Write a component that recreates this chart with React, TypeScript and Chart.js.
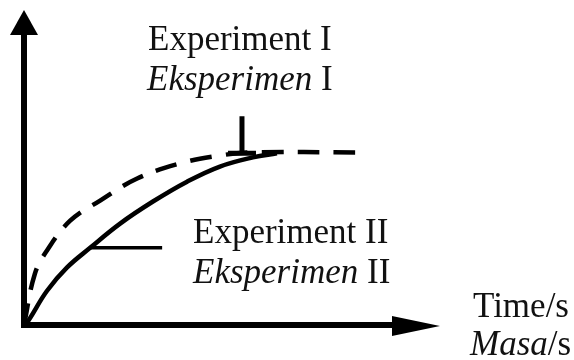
import React, { useEffect, useRef } from "react";
import { Chart, registerables } from "chart.js";

Chart.register(...registerables);

// Experiment I (dashed) – product vs time, arbitrary units (0..100)
const expITime = [0, 2.6, 5.5, 11.1, 18.3, 27.2, 37.5, 47.1, 55.0, 79.6];
const expIValue = [0, 16.2, 23.6, 33.1, 39.5, 46.5, 51.3, 53.8, 54.8, 54.8];

// Experiment II (solid)
const expIITime = [0, 1.0, 5.5, 10.3, 15.9, 23.1, 31.0, 39.2, 47.1, 55.0, 60.8];
const expIIValue = [0, 1.3, 10.8, 18.2, 24.5, 32.2, 39.2, 45.5, 50.3, 53.2, 54.5];

// Labels
const labelExpI = ["Experiment I", "Eksperimen", " I"];
const labelExpII = ["Experiment II", "Eksperimen", " II"];
const axisLabel = ["Time/s", "Masa", "/s"];

const X_MAX = 100;
const Y_MAX = 100;

const FONT = '"Liberation Serif", "Times New Roman", serif';

const overlay = {
  id: "overlay",
  afterDatasetsDraw(chart: any) {
    const ctx = chart.ctx as CanvasRenderingContext2D;
    const xs = chart.scales.x;
    const ys = chart.scales.y;
    const ox = xs.getPixelForValue(0);
    const oy = ys.getPixelForValue(0);
    const topY = ys.getPixelForValue(Y_MAX);
    const rightX = xs.getPixelForValue(X_MAX);
    ctx.save();
    ctx.fillStyle = "#000";
    ctx.strokeStyle = "#000";
    ctx.lineCap = "butt";
    // axes
    ctx.lineWidth = 6;
    ctx.beginPath();
    ctx.moveTo(ox, oy + 3);
    ctx.lineTo(ox, topY + 20);
    ctx.moveTo(ox - 3, oy);
    ctx.lineTo(rightX - 30, oy);
    ctx.stroke();
    // arrow heads
    ctx.beginPath();
    ctx.moveTo(ox, topY);
    ctx.lineTo(ox - 14, topY + 25);
    ctx.lineTo(ox + 14, topY + 25);
    ctx.closePath();
    ctx.fill();
    ctx.beginPath();
    ctx.moveTo(rightX, oy + 1);
    ctx.lineTo(rightX - 48, oy - 9);
    ctx.lineTo(rightX - 48, oy + 11);
    ctx.closePath();
    ctx.fill();

    // pointer for Experiment I
    const p1x = xs.getPixelForValue(52.4);
    const p1y = ys.getPixelForValue(54.5);
    ctx.lineWidth = 5;
    ctx.beginPath();
    ctx.moveTo(p1x, p1y);
    ctx.lineTo(p1x, p1y - 37);
    ctx.moveTo(p1x - 14, p1y);
    ctx.lineTo(p1x + 14, p1y);
    ctx.stroke();

    // pointer for Experiment II
    const p2x = xs.getPixelForValue(15.9);
    const p2y = ys.getPixelForValue(24.5);
    ctx.lineWidth = 3.5;
    ctx.beginPath();
    ctx.moveTo(p2x, p2y);
    ctx.lineTo(p2x + 72, p2y);
    ctx.stroke();

    // texts
    ctx.fillStyle = "#111";
    ctx.textBaseline = "alphabetic";
    ctx.textAlign = "left";
    const drawMixed = (x: number, y: number, italicPart: string, rest: string) => {
      ctx.font = `italic 35px ${FONT}`;
      ctx.fillText(italicPart, x, y);
      const w = ctx.measureText(italicPart).width;
      ctx.font = `35px ${FONT}`;
      ctx.fillText(rest, x + w, y);
    };
    ctx.font = `35px ${FONT}`;
    ctx.fillText(labelExpI[0], 148, 50);
    drawMixed(147, 90, labelExpI[1], labelExpI[2]);
    ctx.font = `35px ${FONT}`;
    ctx.fillText(labelExpII[0], 193, 243);
    drawMixed(193, 283, labelExpII[1], labelExpII[2]);
    ctx.font = `35px ${FONT}`;
    ctx.fillText(axisLabel[0], 473, 317);
    drawMixed(470, 355, axisLabel[1], axisLabel[2]);
    ctx.restore();
  },
};

export default function App() {
  const ref = useRef<HTMLCanvasElement | null>(null);
  useEffect(() => {
    if (!ref.current) return;
    const chart = new Chart(ref.current, {
      type: "line",
      data: {
        datasets: [
          {
            label: "Experiment I",
            data: expITime.map((t, i) => ({ x: t, y: expIValue[i] })),
            borderColor: "#000",
            borderWidth: 4.5,
            borderDash: [22, 14],
            pointRadius: 0,
            tension: 0.4,
            fill: false,
            clip: false as any,
          },
          {
            label: "Experiment II",
            data: expIITime.map((t, i) => ({ x: t, y: expIIValue[i] })),
            borderColor: "#000",
            borderWidth: 4.5,
            pointRadius: 0,
            tension: 0.4,
            fill: false,
            clip: false as any,
          },
        ],
      },
      options: {
        responsive: false,
        animation: false,
        layout: { padding: { left: 24, right: 134, top: 10, bottom: 35 } },
        scales: {
          x: { type: "linear", min: 0, max: X_MAX, display: false },
          y: { type: "linear", min: 0, max: Y_MAX, display: false },
        },
        plugins: {
          legend: { display: false },
          tooltip: { enabled: false },
        },
      },
      plugins: [overlay],
    });
    return () => chart.destroy();
  }, []);
  return (
    <div style={{ position: "fixed", left: 0, top: 0, width: 574, height: 360, background: "#fff" }}>
      <canvas ref={ref} width={574} height={360} style={{ width: 574, height: 360 }} />
    </div>
  );
}
